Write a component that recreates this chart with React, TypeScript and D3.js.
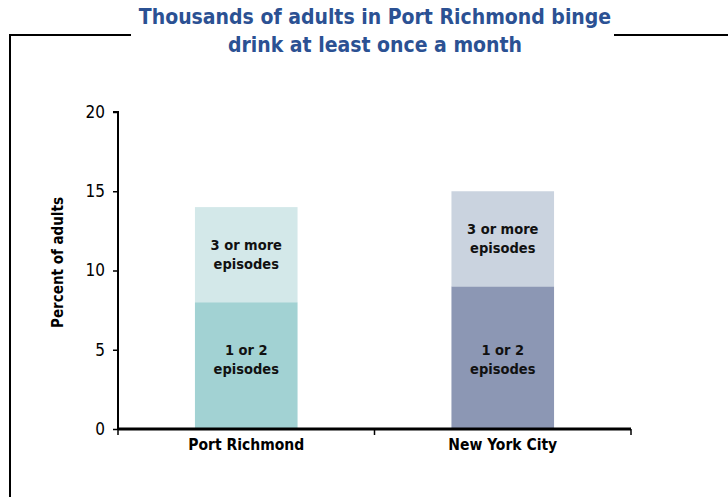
import React, { useRef, useEffect } from "react";
import * as d3 from "d3";

const categories = ["Port Richmond", "New York City"];
const lowerValues = [8, 9]; // 1 or 2 episodes
const upperValues = [6, 6]; // 3 or more episodes
const lowerColors = ["#a2d2d3", "#8c97b4"];
const upperColors = ["#d3e8e9", "#cad3df"];
const yTicks = [0, 5, 10, 15, 20];
const titleLines = ["Thousands of adults in Port Richmond binge", "drink at least once a month"];

const App: React.FC = () => {
  const svgRef = useRef<SVGSVGElement>(null);

  useEffect(() => {
    const svg = d3.select(svgRef.current);
    svg.selectAll("*").remove();
    const width = 728;
    const height = 497;
    const margin = { left: 118, right: 97, top: 112, bottom: 68 };
    const font = "'DejaVu Sans Condensed', 'DejaVu Sans', sans-serif";

    svg.append("rect").attr("width", width).attr("height", height).attr("fill", "#fff");

    // frame
    svg.append("path")
      .attr("d", "M10,497 L10,35 L131,35 M614,35 L728,35")
      .attr("fill", "none")
      .attr("stroke", "#000")
      .attr("stroke-width", 2);

    svg.append("text")
      .attr("x", 375)
      .attr("text-anchor", "middle")
      .attr("font-family", font)
      .attr("font-weight", "bold")
      .attr("font-size", 21)
      .attr("fill", "#2b5193")
      .selectAll("tspan")
      .data(titleLines)
      .enter()
      .append("tspan")
      .attr("x", 375)
      .attr("y", (_d, i) => 24 + i * 28)
      .text((d) => d);

    const x = d3
      .scaleBand()
      .domain(categories)
      .range([margin.left, width - margin.right])
      .paddingInner(0.6)
      .paddingOuter(0.3);

    const y = d3
      .scaleLinear()
      .domain([0, 20])
      .range([height - margin.bottom, margin.top]);

    const rows = categories.map((c, i) => ({
      cat: c,
      lower: lowerValues[i],
      upper: upperValues[i],
      i,
    }));

    svg.selectAll(".lower")
      .data(rows)
      .enter()
      .append("rect")
      .attr("x", (d) => x(d.cat)!)
      .attr("y", (d) => y(d.lower))
      .attr("width", x.bandwidth())
      .attr("height", (d) => y(0) - y(d.lower))
      .attr("fill", (d) => lowerColors[d.i]);

    svg.selectAll(".upper")
      .data(rows)
      .enter()
      .append("rect")
      .attr("x", (d) => x(d.cat)!)
      .attr("y", (d) => y(d.lower + d.upper))
      .attr("width", x.bandwidth())
      .attr("height", (d) => y(d.lower) - y(d.lower + d.upper))
      .attr("fill", (d) => upperColors[d.i]);

    const addLabel = (cx: number, cy: number, lines: string[]) => {
      const t = svg.append("text")
        .attr("text-anchor", "middle")
        .attr("font-family", font)
        .attr("font-weight", "bold")
        .attr("font-size", 14.5)
        .attr("fill", "#111");
      lines.forEach((l, k) => {
        t.append("tspan")
          .attr("x", cx)
          .attr("y", cy + (k - (lines.length - 1) / 2) * 19 + 5)
          .text(l);
      });
    };

    rows.forEach((d) => {
      const cx = x(d.cat)! + x.bandwidth() / 2;
      addLabel(cx, (y(d.lower) + y(d.lower + d.upper)) / 2, ["3 or more", "episodes"]);
      addLabel(cx, y(4.4), ["1 or 2", "episodes"]);
    });

    // y axis
    const yAxis = svg.append("g")
      .attr("transform", `translate(${margin.left},0)`)
      .call(d3.axisLeft(y).tickValues(yTicks).tickSize(5).tickPadding(8));
    yAxis.select(".domain").attr("stroke-width", 2).attr("d", `M-5,${y(20)}H0V${y(0)}`);
    yAxis.selectAll(".tick line").attr("stroke-width", 1.5);
    yAxis.selectAll("text")
      .attr("font-family", font)
      .attr("font-size", 17)
      .attr("fill", "#000");

    // x axis
    const xAxis = svg.append("g").attr("transform", `translate(0,${y(0)})`);
    xAxis.append("line")
      .attr("x1", margin.left)
      .attr("x2", width - margin.right)
      .attr("stroke", "#000")
      .attr("stroke-width", 3);
    const bounds = [margin.left, ...categories.map((c) => x(c)! + x.bandwidth() / 2 + x.step() / 2)];
    xAxis.selectAll(".xt")
      .data(bounds)
      .enter()
      .append("line")
      .attr("x1", (d) => d)
      .attr("x2", (d) => d)
      .attr("y1", 0)
      .attr("y2", 6)
      .attr("stroke", "#000")
      .attr("stroke-width", 1.5);
    xAxis.selectAll(".xl")
      .data(categories)
      .enter()
      .append("text")
      .attr("x", (d) => x(d)! + x.bandwidth() / 2)
      .attr("y", 21)
      .attr("text-anchor", "middle")
      .attr("font-family", font)
      .attr("font-weight", "bold")
      .attr("font-size", 15.5)
      .text((d) => d);

    svg.append("text")
      .attr("transform", `translate(63,${(y(0) + y(20)) / 2 - 8}) rotate(-90)`)
      .attr("text-anchor", "middle")
      .attr("font-family", font)
      .attr("font-weight", "bold")
      .attr("font-size", 15)
      .text("Percent of adults");
  }, []);

  return (
    <svg
      ref={svgRef}
      width={728}
      height={497}
      style={{ position: "absolute", left: 0, top: 0 }}
    ></svg>
  );
};

export default App;
